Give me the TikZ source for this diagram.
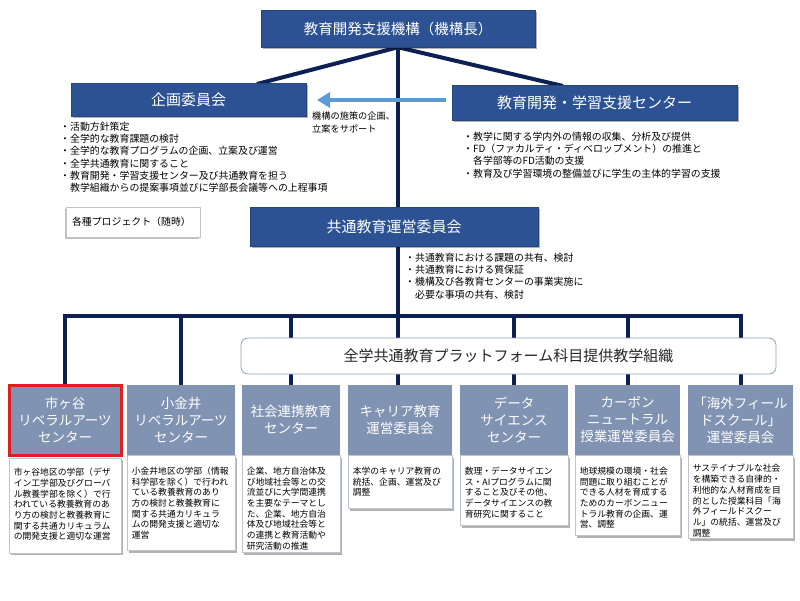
\documentclass[tikz,border=0pt]{standalone}
\usepackage{fontspec}
\setmainfont{Noto Sans CJK JP}
\usetikzlibrary{shadows,arrows.meta}
\pgfdeclarelayer{bg}
\pgfdeclarelayer{lines}
\pgfsetlayers{bg,lines,main}
\definecolor{navyfill}{HTML}{2C5293}
\definecolor{linec}{HTML}{0C2054}
\definecolor{hdrc}{HTML}{8193B2}
\definecolor{arrc}{HTML}{5B9BD5}
\definecolor{bodyb}{HTML}{BFC5CF}
\definecolor{redb}{HTML}{E0201F}
\definecolor{rboxb}{HTML}{8FA2BC}
\tikzset{
  navybox/.style={fill=navyfill, draw=navyfill!85!black, line width=0.5pt, text=white, inner sep=0pt,
    drop shadow={shadow xshift=2pt, shadow yshift=-2pt, opacity=0.3, fill=black}},
  conn/.style={draw=linec, line width=4pt},
  infoarrow/.style={draw=arrc, line width=4pt, -{Triangle[length=13pt,width=15pt]}},
  hdr/.style={fill=hdrc, text=white, inner sep=0pt, align=center, minimum height=70pt,
    font=\fontsize{13.5}{17}\selectfont},
  bodybox/.style={fill=white, draw=bodyb, line width=0.8pt, inner sep=0pt, anchor=north,
    drop shadow={shadow xshift=2pt, shadow yshift=-2pt, opacity=0.3, fill=black}},
  bodytxt/.style={anchor=north west, inner sep=0pt, align=left, font=\fontsize{8.8}{10.7}\selectfont},
  bul/.style={anchor=north west, inner sep=0pt, align=left, font=\fontsize{9.9}{12.2}\selectfont},
  rbox/.style={fill=white, draw=rboxb, line width=0.8pt, rounded corners=7pt, inner sep=0pt,
    font=\fontsize{15}{18}\selectfont, text=black!85},
  probox/.style={fill=white, draw=bodyb, line width=0.8pt, align=left, inner xsep=6pt, inner ysep=0pt,
    font=\fontsize{9.9}{12}\selectfont,
    drop shadow={shadow xshift=-1pt, shadow yshift=-2pt, opacity=0.25, fill=black}},
}
\begin{document}
\begin{tikzpicture}[x=1pt,y=-1pt]
\begin{pgfonlayer}{bg}
\fill[white] (0,0) rectangle (800,600);
\end{pgfonlayer}
\useasboundingbox (0,0) rectangle (800,600);

% upper boxes
\node[navybox, minimum width=274pt, minimum height=37pt, font=\fontsize{14.5}{17}\selectfont] (top) at (398,28.5) {教育開発支援機構（機構長）};
\node[navybox, minimum width=235pt, minimum height=33pt, font=\fontsize{15}{18}\selectfont] (plan) at (188.5,99.5) {企画委員会};
\node[navybox, minimum width=285pt, minimum height=35pt, font=\fontsize{15}{18}\selectfont] (sup) at (594.5,102.5) {教育開発・学習支援センター};
\node[navybox, minimum width=288pt, minimum height=39pt, font=\fontsize{15}{18}\selectfont] (com) at (394,226.5) {共通教育運営委員会};
\node[probox, text width=122pt, minimum height=30pt] (proj) at (133,222) {各種プロジェクト（随時）};

% bullet texts
\node[bul] (lb) at (60,122) {・活動方針策定\\・全学的な教育課題の検討\\・全学的な教育プログラムの企画、立案及び運営\\・全学共通教育に関すること\\・教育開発・学習支援センター及び共通教育を担う\\\phantom{・}教学組織からの提案事項並びに学部長会議等への上程事項};
\node[bul] (rb) at (463,132) {・教学に関する学内外の情報の収集、分析及び提供\\・FD（ファカルティ・ディベロップメント）の推進と\\\phantom{・}各学部等のFD活動の支援\\・教育及び学習環境の整備並びに学生の主体的学習の支援};
\node[bul] (mb) at (405,253) {・共通教育における課題の共有、検討\\・共通教育における質保証\\・機構及び各教育センターの事業実施に\\\phantom{・}必要な事項の共有、検討};
\node[anchor=north west, inner sep=0pt, align=left, font=\fontsize{9.2}{12.5}\selectfont] (al) at (312,112) {機構の施策の企画、\\立案をサポート};

% platform box
\node[rbox, minimum width=535pt, minimum height=36pt] (plat) at (508.5,356) {全学共通教育プラットフォーム科目提供教学組織};

% lower headers
\node[hdr, minimum width=112pt, draw=redb, line width=3pt] (h1) at (65,420) {市ヶ谷\\リベラルアーツ\\センター};
\node[hdr, minimum width=108pt] (h2) at (181,420) {小金井\\リベラルアーツ\\センター};
\node[hdr, minimum width=98pt] (h3) at (291,420) {社会連携教育\\センター};
\node[hdr, minimum width=104pt] (h4) at (400,420) {キャリア教育\\運営委員会};
\node[hdr, minimum width=108pt] (h5) at (514,420) {データ\\サイエンス\\センター};
\node[hdr, minimum width=105pt] (h6) at (627.5,420) {カーボン\\ニュートラル\\授業運営委員会};
\node[hdr, minimum width=105pt] (h7) at (740.5,420) {「海外フィール\\ドスクール」\\運営委員会};

% lower bodies
\node[bodybox, minimum width=112pt, minimum height=95pt] (b1) at ([yshift=-1.5pt]h1.south) {};
\node[bodybox, minimum width=108pt, minimum height=95pt] (b2) at (h2.south) {};
\node[bodybox, minimum width=98pt, minimum height=97pt] (b3) at (h3.south) {};
\node[bodybox, minimum width=104pt, minimum height=53pt] (b4) at (h4.south) {};
\node[bodybox, minimum width=108pt, minimum height=70pt] (b5) at (h5.south) {};
\node[bodybox, minimum width=105pt, minimum height=80pt] (b6) at (h6.south) {};
\node[bodybox, minimum width=105pt, minimum height=83pt] (b7) at (h7.south) {};

\node[bodytxt] (t1) at ([xshift=5pt,yshift=-10pt]b1.north west) {市ヶ谷地区の学部（デザ\\イン工学部及びグローバ\\ル教養学部を除く）で行\\われている教養教育のあ\\り方の検討と教養教育に\\関する共通カリキュラム\\の開発支援と適切な運営};
\node[bodytxt] (t2) at ([xshift=5pt,yshift=-11.5pt]b2.north west) {小金井地区の学部（情報\\科学部を除く）で行われ\\ている教養教育のあり\\方の検討と教養教育に\\関する共通カリキュラ\\ムの開発支援と適切な\\運営};
\node[bodytxt] (t3) at ([xshift=5pt,yshift=-11.5pt]b3.north west) {企業、地方自治体及\\び地域社会等との交\\流並びに大学間連携\\を主要なテーマとし\\た、企業、地方自治\\体及び地域社会等と\\の連携と教育活動や\\研究活動の推進};
\node[bodytxt] (t4) at ([xshift=5pt,yshift=-11.5pt]b4.north west) {本学のキャリア教育の\\統括、企画、運営及び\\調整};
\node[bodytxt] (t5) at ([xshift=5pt,yshift=-11.5pt]b5.north west) {数理・データサイエン\\ス・AIプログラムに関\\すること及びその他、\\データサイエンスの教\\育研究に関すること};
\node[bodytxt] (t6) at ([xshift=5pt,yshift=-11.5pt]b6.north west) {地球規模の環境・社会\\問題に取り組むことが\\できる人材を育成する\\ためのカーボンニュー\\トラル教育の企画、運\\営、調整};
\node[bodytxt] (t7) at ([xshift=5pt,yshift=-9pt]b7.north west) {サステイナブルな社会\\を構築できる自律的・\\利他的な人材育成を目\\的とした授業科目「海\\外フィールドスクー\\ル」の統括、運営及び\\調整};

% connectors
\coordinate (bus) at (398,316);
\coordinate (pl) at (257,84);
\coordinate (sr) at (563,86);
\begin{pgfonlayer}{lines}
\draw[conn] (top.south) -- (pl);
\draw[conn] (top.south) -- (sr);
\draw[conn] (top.south) -- (top.south |- h4.north);
\draw[conn] (h1.north) |- (h7.north |- bus) -- (h7.north);
\draw[conn] (h2.north) -- (h2.north |- bus);
\draw[conn] (h3.north) -- (h3.north |- bus);
\draw[conn] (h5.north) -- (h5.north |- bus);
\draw[conn] (h6.north) -- (h6.north |- bus);
\end{pgfonlayer}

% support arrow
\coordinate (a1) at (446,100);
\coordinate (a2) at (317,100);
\draw[infoarrow] (a1) -- (a2);
\end{tikzpicture}
\end{document}
